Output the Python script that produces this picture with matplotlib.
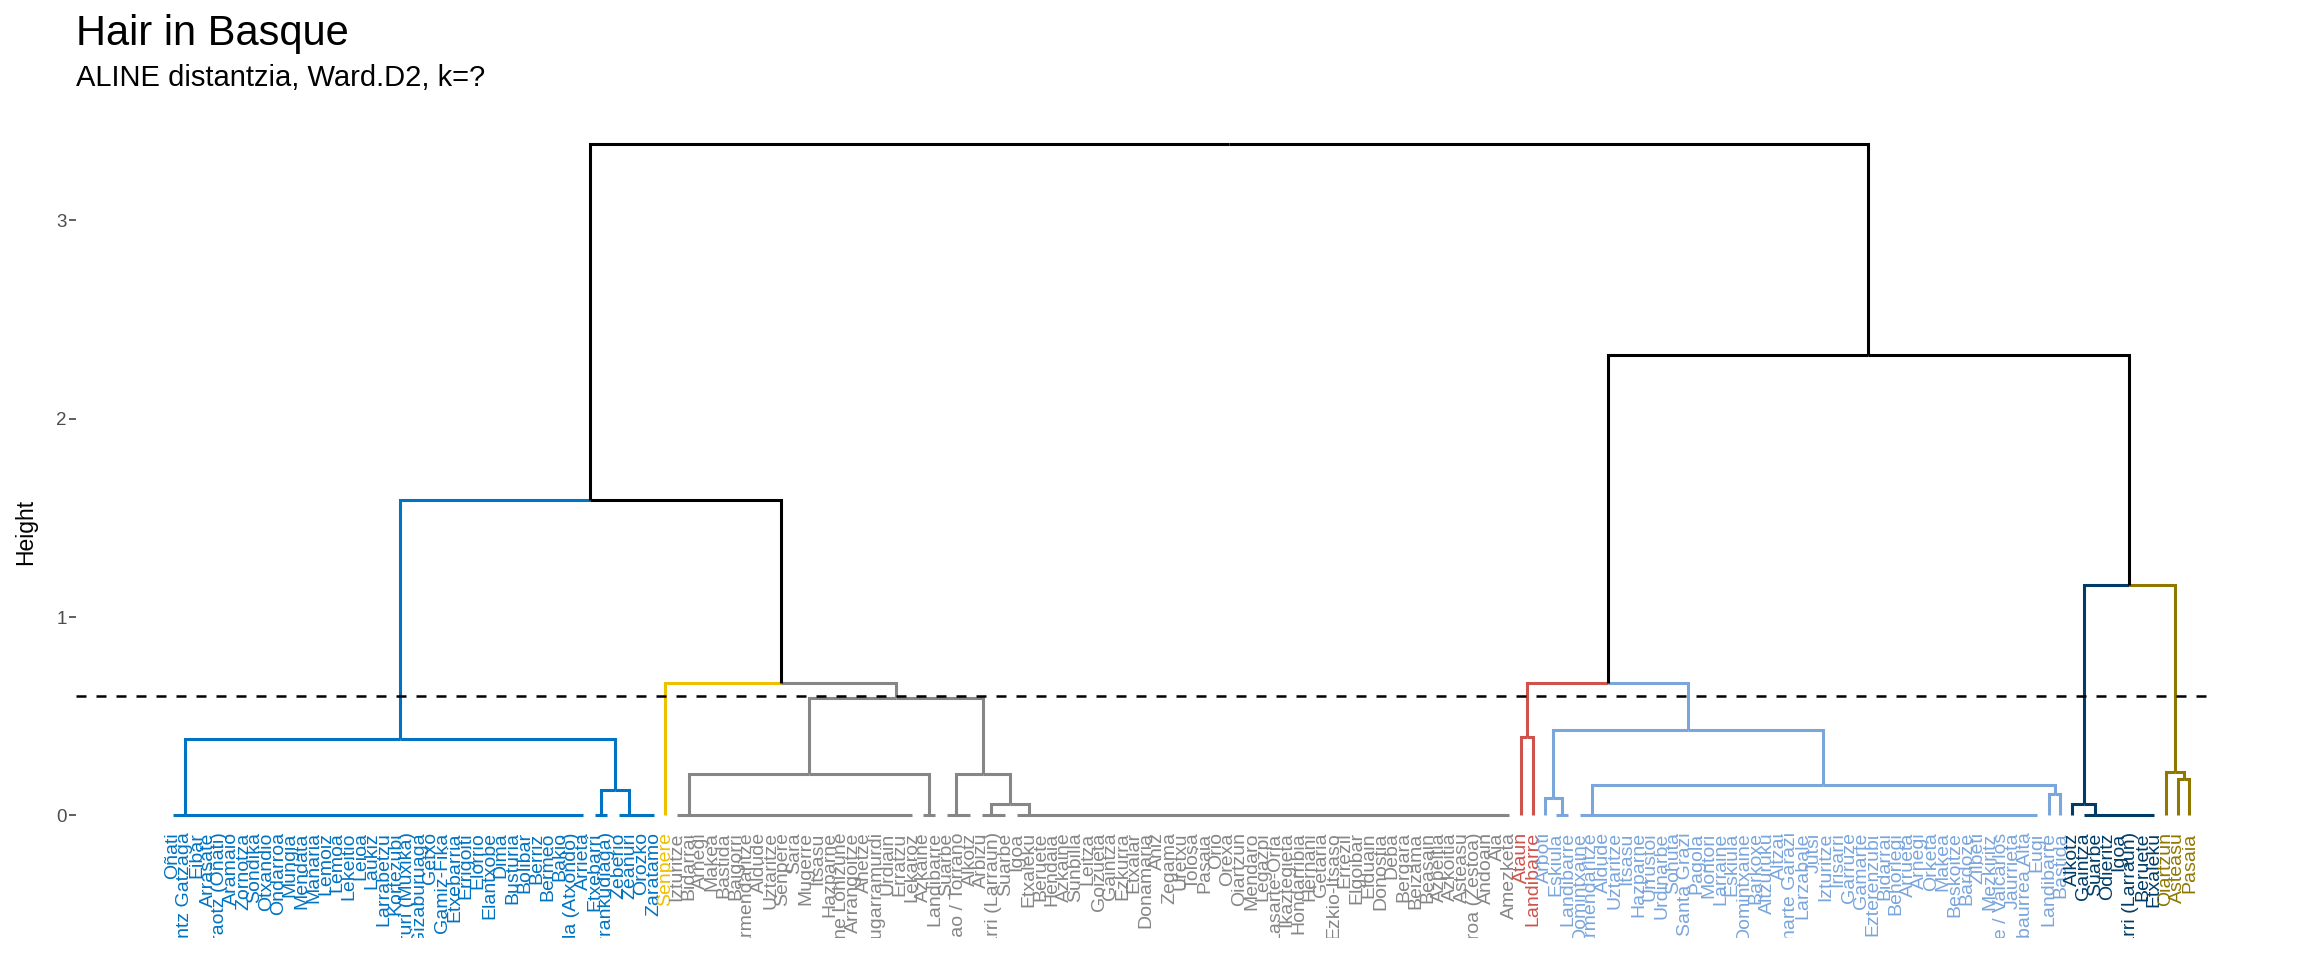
import numpy as np
import matplotlib
matplotlib.use("Agg")
import matplotlib.pyplot as plt

plt.rcParams['font.family'] = ['Liberation Sans', 'DejaVu Sans']

# leaf labels, left to right
labels = [
    "Oñati", "Leintz Gatzaga", "Eibar", "Arrasate", "Araotz (Oñati)", "Aramaio", "Zornotza",
    "Sondika", "Otxandio", "Ondarroa", "Mungia", "Mendata", "Mañaria", "Lemoiz", "Lemoa",
    "Lekeitio", "Leioa", "Laukiz", "Larrabetzu", "Kortezubi", "Ibarruri (Muxika)",
    "Gizaburuaga", "Getxo", "Gamiz-Fika", "Etxebarria", "Errigoiti", "Elorrio", "Elantxobe",
    "Dima", "Busturia", "Bolibar", "Berriz", "Bermeo", "Bakio", "Arrazola (Atxondo)",
    "Arrieta", "Etxebarri", "Zollo (Arrankudiaga)", "Zeberio", "Zeanuri", "Orozko", "Zaratamo",
    "Senpere",
    "Izturitze", "Bidarrai", "Arnegi", "Makea", "Bastida", "Baigorri", "Armendaritze",
    "Aldude", "Uztaritze", "Senpere", "Sara", "Mugerre", "Itsasu", "Hazparne",
    "Donibane Lohizune", "Arrangoitze", "Ahetze", "Zugarramurdi", "Urdiain", "Erratzu",
    "Lekaroz", "Azkaine", "Landibarre", "Suarbe", "Dorrao / Torrano", "Alkotz", "Arbizu",
    "Etxarri (Larraun)", "Suarbe", "Igoa", "Etxaleku", "Beruete", "Hendaia", "Azkaine",
    "Sunbilla", "Leitza", "Goizueta", "Gaintza", "Ezkurra", "Etxalar", "Donamaria", "Aniz",
    "Zegama", "Uretxu", "Tolosa", "Pasaia", "Orio", "Orexa", "Oiartzun", "Mendaro",
    "Legazpi", "Lasarte-Oria", "Ikaztegieta", "Hondarribia", "Hernani", "Getaria",
    "Ezkio-Itsaso", "Errezil", "Elgoibar", "Elduain", "Donostia", "Deba", "Bergara",
    "Beizama", "Beasain", "Azpeitia", "Azkoitia", "Asteasu", "Arroa (Zestoa)", "Andoain",
    "Aia", "Amezketa",
    "Ataun", "Landibarre",
    "Arboti", "Eskiula", "Landibarre", "Domintxaine", "Armendaritze", "Aldude", "Uztaritze",
    "Itsasu", "Hazparne", "Urrustoi", "Urdinarbe", "Sohuta", "Santa Grazi", "Pagola",
    "Montori", "Larraine", "Eskiula", "Domintxaine", "Barkoxe", "Altzuruku", "Altzai",
    "Uharte Garazi", "Larzabale", "Jutsi", "Izturitze", "Irisarri", "Garruze", "Gamarte",
    "Ezterenzubi", "Bidarrai", "Behorlegi", "Arrueta", "Arnegi", "Orketa", "Makea",
    "Beskoitze", "Bardoze", "Zilbeti", "Mezkiritz", "Luzaide / Valcarlos", "Jaurrieta",
    "Abaurrea Alta", "Eugi", "Landibarre", "Bastida",
    "Alkotz", "Gaintza", "Suarbe", "Odieritz", "Igoa", "Etxarri (Larraun)", "Beruete",
    "Etxaleku",
    "Oiartzun", "Asteasu", "Pasaia",
]
cluster_sizes = [42, 1, 72, 2, 45, 8, 3]
cluster_colors = ["#0073C2", "#EFC000", "#868686", "#CD534C", "#7AA6DC", "#003C67", "#8F7700"]

# runs of leaves joined at height 0: (first, last) leaf index
flat = {
    "b0": (0, 35), "b1": (36, 37), "b2": (38, 41),
    "g0": (43, 63), "g1": (64, 65), "g2": (66, 68), "g3": (69, 71), "g4": (72, 114),
    "l0b": (118, 119), "l1": (120, 159), "n1": (163, 169),
}
# merges: name, left child, right child, height (ints are single leaves)
merges = [
    ("b12", "b1", "b2", 0.126),
    ("blue", "b0", "b12", 0.385),
    ("gl", "g0", "g1", 0.207),
    ("g34", "g3", "g4", 0.06),
    ("gr", "g2", "g34", 0.207),
    ("gray", "gl", "gr", 0.59),
    ("yg", 42, "gray", 0.667),
    ("left", "blue", "yg", 1.59),
    ("red", 115, 116, 0.393),
    ("l0", 117, "l0b", 0.09),
    ("l2", 160, 161, 0.11),
    ("l12", "l1", "l2", 0.156),
    ("lb", "l0", "l12", 0.43),
    ("rlb", "red", "lb", 0.667),
    ("navy", 162, "n1", 0.06),
    ("o2", 171, 172, 0.185),
    ("olive", 170, "o2", 0.22),
    ("no", "navy", "olive", 1.163),
    ("right", "rlb", "no", 2.32),
    ("root", "left", "right", 3.385),
]
cut_height = 0.6

leaf_colors = np.repeat(cluster_colors, cluster_sizes)

fig = plt.figure(figsize=(23.04, 9.6), dpi=100)
ax = fig.add_axes([76 / 2304, 22 / 960, (2214 - 76) / 2304, 0.875 - 22 / 960])
lw = 2.2

nodes = {}
for name, (a, b) in flat.items():
    # chain of zero-height merges, nested from the right
    x = float(b)
    for i in range(b - 1, a - 1, -1):
        x = (i + x) / 2
    ax.plot([a, b], [0, 0], color=leaf_colors[a], lw=lw, solid_capstyle='butt')
    nodes[name] = (x, 0.0, leaf_colors[a])


def info(c):
    if isinstance(c, int):
        return (float(c), 0.0, leaf_colors[c])
    return nodes[c]


for name, l, r, h in merges:
    lx, lh, lc = info(l)
    rx, rh, rc = info(r)
    nx = (lx + rx) / 2
    ax.plot([lx, lx, nx], [lh, h, h], color=lc, lw=lw, solid_joinstyle='miter', solid_capstyle='butt')
    ax.plot([rx, rx, nx], [rh, h, h], color=rc, lw=lw, solid_joinstyle='miter', solid_capstyle='butt')
    nodes[name] = (nx, h, lc if lc == rc else "black")

ax.axhline(cut_height, ls=(0, (4, 4)), color="black", lw=1.8)

# leaf labels are cut at the bottom of the panel, like in ggplot
for i, lab in enumerate(labels):
    ax.text(i, -0.085, lab, rotation=90, ha='center', va='top', fontsize=14,
            color=leaf_colors[i], clip_on=True, clip_box=ax.bbox)

ax.set_xlim(-8.28, 174.1)
ax.set_ylim(-0.6175, 3.505)
ax.set_yticks([0, 1, 2, 3])
ax.set_xticks([])
ax.tick_params(axis='y', length=5, width=1.1, color="#333333", labelcolor="#4D4D4D",
               labelsize=13.5, pad=1.5)
for s in ax.spines.values():
    s.set_visible(False)

fig.text(26 / 2304, 0.446, "Height", rotation=90, ha='center', va='center', fontsize=16.5)
fig.text(76 / 2304, 1 - 45 / 960, "Hair in Basque", fontsize=30, va='baseline')
fig.text(76 / 2304, 1 - 86 / 960, "ALINE distantzia, Ward.D2, k=?", fontsize=21, va='baseline')

fig.savefig("out.png", dpi=100)
